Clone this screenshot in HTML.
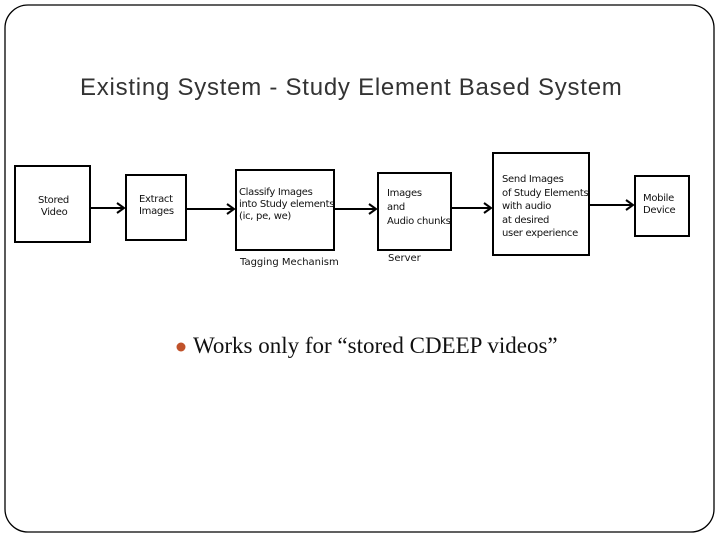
<!DOCTYPE html>
<html><head><style>
body{margin:0;width:720px;height:540px;background:#fff;overflow:hidden;position:relative;font-family:"DejaVu Sans","Liberation Sans",sans-serif}
.b{position:absolute;border:2px solid #000;box-sizing:border-box;font-size:10px;line-height:12px;color:#111;letter-spacing:-0.3px}
.t{position:absolute;font-size:10px;color:#111;white-space:nowrap}
</style></head><body>
<svg width="720" height="540" style="position:absolute;left:0;top:0">
<rect x="5" y="5" width="709" height="527" rx="23" fill="none" stroke="#000" stroke-width="1.3"/>
<g stroke="#000" stroke-width="2" fill="none">
<line x1="91" y1="208" x2="124" y2="208"/><polyline points="117,203 124,208 117,213"/>
<line x1="187" y1="209" x2="234" y2="209"/><polyline points="227,204 234,209 227,214"/>
<line x1="335" y1="209" x2="376" y2="209"/><polyline points="369,204 376,209 369,214"/>
<line x1="452" y1="208" x2="491" y2="208"/><polyline points="484,203 491,208 484,213"/>
<line x1="590" y1="205" x2="633" y2="205"/><polyline points="626,200 633,205 626,210"/>
</g>
<circle cx="181" cy="347" r="4.5" fill="#c0522a"/>
</svg>
<div style="position:absolute;left:80px;top:74px;font-family:'Liberation Sans',sans-serif;font-size:24px;letter-spacing:0.75px;color:#333">Existing System - Study Element Based System</div>
<div class="b" style="left:14px;top:165px;width:77px;height:78px;padding:28px 0 0 22px">Stored<br>&nbsp;Video</div>
<div class="b" style="left:125px;top:174px;width:62px;height:67px;padding:18px 0 0 12px">Extract<br>Images</div>
<div class="b" style="left:235px;top:169px;width:100px;height:82px;padding:16px 0 0 2px;white-space:nowrap">Classify Images<br>into Study elements<br>(ic, pe, we)</div>
<div class="b" style="left:377px;top:172px;width:75px;height:79px;padding:13px 0 0 8px;line-height:14px;white-space:nowrap">Images<br>and<br>Audio chunks</div>
<div class="b" style="left:492px;top:152px;width:98px;height:104px;padding:19px 0 0 8px;line-height:13.5px;white-space:nowrap">Send Images<br>of Study Elements<br>with audio<br>at desired<br>user experience</div>
<div class="b" style="left:634px;top:175px;width:56px;height:62px;padding:16px 0 0 7px">Mobile<br>Device</div>
<div class="t" style="left:240px;top:257px">Tagging Mechanism</div>
<div class="t" style="left:388px;top:253px">Server</div>
<div style="position:absolute;left:193px;top:333px;font-family:'Liberation Serif',serif;font-size:23px;color:#111">Works only for “stored CDEEP videos”</div>
</body></html>
